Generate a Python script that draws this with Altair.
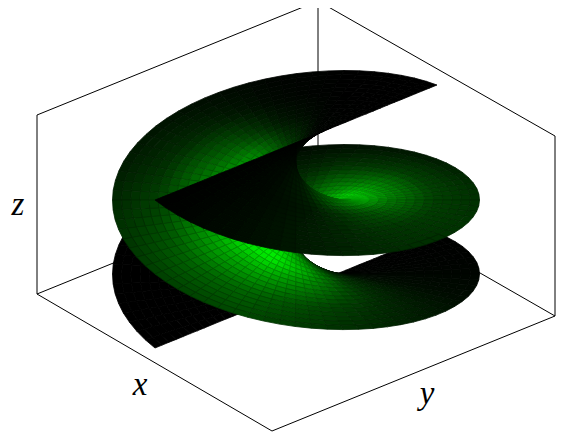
import altair as alt
import pandas as pd
import math

# Box corners (screen pixels of the reference)
box_corner_names = ["bl", "bf", "br", "bb", "tl", "tb", "tr"]
box_corner_x = [37, 272, 555, 318, 37, 318, 555]
box_corner_y = [294, 431, 316, 180, 115, 1, 136]
box_edges = [("bl", "bf"), ("bf", "br"), ("bl", "bb"), ("br", "bb"), ("bb", "tb"),
             ("bl", "tl"), ("br", "tr"), ("tl", "tb"), ("tb", "tr")]

# Axis directions and surface placement
centre_x = 296.0
bottom_centre_y = 290.5
top_centre_y = 142.5
x_dir = (117.5, 68.5)
y_dir = (141.0, -57.5)
depth_n = (141.0, -117.5, 110.9)

# Brightness (green level), per angle row and radius column
radius_stops = [0, .1, .2, .35, .5, .75, 1]
angle_stops = [0, 30, 60, 90, 120, 150, 180, 210, 240, 270, 300, 330, 360]
sheet_b_green = [
    [0, 0, 0, 0, 0, 0, 0],
    [0, 0, 0, 2, 3, 3, 3],
    [0, 5, 10, 15, 15, 12, 10],
    [0, 15, 40, 60, 55, 40, 30],
    [5, 60, 140, 170, 130, 70, 50],
    [30, 120, 215, 240, 175, 100, 70],
    [50, 120, 200, 235, 175, 100, 60],
    [60, 120, 180, 190, 140, 70, 45],
    [60, 110, 160, 170, 120, 50, 25],
    [60, 100, 140, 135, 85, 35, 15],
    [50, 70, 70, 50, 25, 8, 5],
    [10, 10, 8, 5, 2, 0, 0],
    [0, 0, 0, 0, 0, 0, 0],
]
sheet_a_green = [
    [0, 0, 0, 0, 0, 0, 0],
    [0, 0, 0, 0, 0, 0, 0],
    [0, 0, 0, 0, 0, 0, 0],
    [0, 2, 3, 3, 3, 2, 0],
    [0, 8, 15, 22, 28, 22, 5],
    [20, 70, 100, 135, 115, 50, 15],
    [30, 90, 170, 230, 155, 65, 25],
    [30, 80, 130, 220, 140, 65, 45],
    [30, 70, 110, 180, 110, 60, 50],
    [20, 60, 100, 110, 70, 50, 45],
    [10, 25, 30, 30, 25, 30, 30],
    [5, 8, 8, 8, 8, 10, 10],
    [0, 0, 0, 0, 0, 0, 0],
]
# Grid of the surface mesh
mesh_angles = list(range(0, 361, 5))
mesh_radii = [i / 20 for i in range(21)]
cos_t = {a: math.cos(math.radians(a)) for a in mesh_angles}
sin_t = {a: math.sin(math.radians(a)) for a in mesh_angles}


def level(table, a, r):
    i = min(int(a // 30), 11)
    ta = (a - angle_stops[i]) / 30
    j = 0
    while j < len(radius_stops) - 2 and r > radius_stops[j + 1]:
        j += 1
    tr = (r - radius_stops[j]) / (radius_stops[j + 1] - radius_stops[j])
    lo = table[i][j] * (1 - tr) + table[i][j + 1] * tr
    hi = table[i + 1][j] * (1 - tr) + table[i + 1][j + 1] * tr
    return lo * (1 - ta) + hi * ta


def vertex(sign, a, r):
    dy, dx = sign * r * cos_t[a], sign * r * sin_t[a]
    h = a / 360
    sx = centre_x + dx * x_dir[0] + dy * y_dir[0]
    sy = bottom_centre_y + (top_centre_y - bottom_centre_y) * h + dx * x_dir[1] + dy * y_dir[1]
    depth = dx * depth_n[0] + dy * depth_n[1] + h * depth_n[2]
    return sx, sy, depth


quads = []
for sign, table in ((1, sheet_b_green), (-1, sheet_a_green)):
    for a0, a1 in zip(mesh_angles[:-1], mesh_angles[1:]):
        for r0, r1 in zip(mesh_radii[:-1], mesh_radii[1:]):
            vs = [vertex(sign, a0, r0), vertex(sign, a1, r0), vertex(sign, a1, r1), vertex(sign, a0, r1)]
            d = sum(v[2] for v in vs) / 4
            g = level(table, (a0 + a1) / 2, (r0 + r1) / 2)
            fill = "#00%02x00" % min(255, round(g))
            edge = "#00%02x00" % min(255, round(g * 0.78))
            quads.append((d, vs, fill, edge))
quads.sort(key=lambda q: q[0])

rows = []
for qi, (d, vs, fill, edge) in enumerate(quads):
    for k, v in enumerate(vs + vs[:1]):
        rows.append({"q": qi, "k": k, "sx": round(v[0], 1), "sy": round(v[1], 1), "f": fill, "e": edge})
surface_df = pd.DataFrame(rows)

corner = dict(zip(box_corner_names, zip(box_corner_x, box_corner_y)))
edge_rows = []
for i, (p, q) in enumerate(box_edges):
    edge_rows.append({"e": i, "k": 0, "sx": corner[p][0], "sy": corner[p][1]})
    edge_rows.append({"e": i, "k": 1, "sx": corner[q][0], "sy": corner[q][1]})
edge_df = pd.DataFrame(edge_rows)

labels_df = pd.DataFrame({"t": ["x", "y", "z"], "sx": [140, 427, 18], "sy": [385, 394, 205]})

X = alt.X("sx:Q", scale=alt.Scale(domain=[8, 566], nice=False, zero=False), axis=None)
Y = alt.Y("sy:Q", scale=alt.Scale(domain=[432, 8], nice=False, zero=False), axis=None)

box = alt.Chart(edge_df).mark_line(color="#000000", strokeWidth=1, clip=True).encode(
    x=X, y=Y, detail="e:N", order="k:Q")
surface = alt.Chart(surface_df).mark_line(strokeWidth=0.8, clip=False, interpolate="linear").encode(
    x=X, y=Y, detail="q:N", order="k:Q",
    fill=alt.Fill("f:N", scale=None), stroke=alt.Stroke("e:N", scale=None))
text = alt.Chart(labels_df).mark_text(font="Liberation Serif", fontStyle="italic", fontSize=33, color="#000000").encode(
    x=X, y=Y, text="t:N")

chart = alt.layer(box, surface, text).properties(
    width=558, height=424, padding=0, autosize=alt.AutoSizeParams(type="none")
).configure_view(stroke=None)
chart.save("out.html", embed_options={"renderer": "svg", "actions": False})
